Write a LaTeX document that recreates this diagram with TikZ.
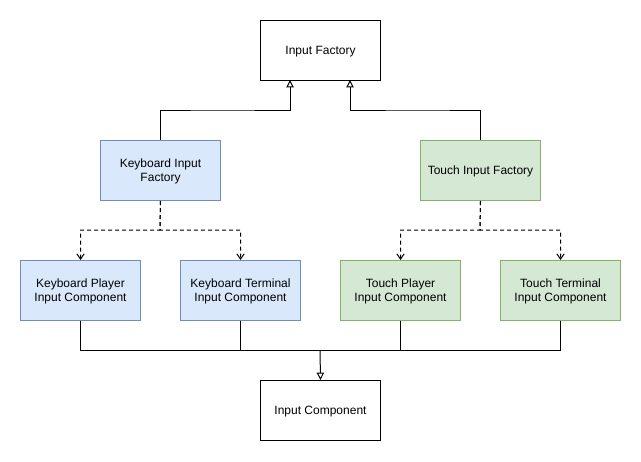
\documentclass[tikz,border=0pt]{standalone}
\usepackage{fontspec}
\setmainfont{Liberation Sans}
\usetikzlibrary{arrows.meta}
\definecolor{bluefill}{HTML}{DAE8FC}
\definecolor{bluedraw}{HTML}{6C8EBF}
\definecolor{greenfill}{HTML}{D5E8D4}
\definecolor{greendraw}{HTML}{82B366}
\begin{document}
\begin{tikzpicture}[x=0.75pt,y=-0.75pt,
  box/.style={draw=black,line width=0.75pt,minimum width=90pt,minimum height=45pt,
    inner sep=0pt,align=center,font=\fontsize{9pt}{10.5pt}\selectfont,anchor=north west,
    text depth=0pt},
  bluebox/.style={box,draw=bluedraw,fill=bluefill},
  greenbox/.style={box,draw=greendraw,fill=greenfill},
  conn/.style={line width=0.75pt},
  inherit/.style={conn,-{Triangle[open,length=5.5pt,width=5.5pt]}},
  depend/.style={conn,dashed,dash pattern=on 3pt off 2.25pt,-{Straight Barb[length=4pt,width=5.5pt]}}]
\useasboundingbox[fill=white] (0,0) rectangle (641,461);
\node[box] (IF) at (260,20) {Input Factory};
\node[bluebox] (KIF) at (100,140) {Keyboard Input\\Factory};
\node[greenbox] (TIF) at (420,140) {Touch Input Factory};
\node[bluebox] (KP) at (20,260) {Keyboard Player\\Input Component};
\node[bluebox] (KT) at (180,260) {Keyboard Terminal\\Input Component};
\node[greenbox] (TP) at (340,260) {Touch Player\\Input Component};
\node[greenbox] (TT) at (500,260) {Touch Terminal\\Input Component};
\node[box] (IC) at (260,380) {Input Component};
\coordinate (ifl) at (290,80);
\coordinate (ifr) at (350,80);
\draw[inherit] (KIF.north) |- (220,110) -| (ifl);
\draw[inherit] (TIF.north) |- (420,110) -| (ifr);
\draw[depend] (KIF.south) -- (160,230) -| (KP.north);
\draw[depend] (KIF.south) -- (160,230) -| (KT.north);
\draw[depend] (TIF.south) -- (480,230) -| (TP.north);
\draw[depend] (TIF.south) -- (480,230) -| (TT.north);
\draw[conn] (KP.south) |- (320,350);
\draw[conn] (KT.south) |- (320,350);
\draw[conn] (TP.south) |- (320,350);
\draw[conn] (TT.south) |- (320,350);
\draw[inherit] (320,350) -- (IC.north);
\end{tikzpicture}
\end{document}
